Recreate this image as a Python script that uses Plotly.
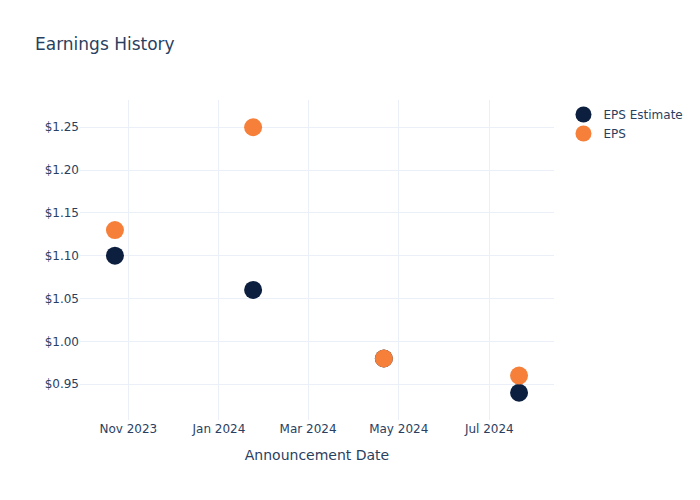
import plotly.graph_objects as go

dates = ["2023-10-23", "2024-01-24", "2024-04-21", "2024-07-21"]
eps_estimate = [1.10, 1.06, 0.98, 0.94]
eps_actual = [1.13, 1.25, 0.98, 0.96]

fig = go.Figure()
fig.add_trace(go.Scatter(x=dates, y=eps_estimate, mode="markers", name="EPS Estimate",
                         marker=dict(size=18, color="#0c1f3f")))
fig.add_trace(go.Scatter(x=dates, y=eps_actual, mode="markers", name="EPS",
                         marker=dict(size=18, color="#f6803a")))
fig.update_layout(
    template="plotly_white",
    width=692, height=492,
    margin=dict(l=72, r=80, t=92, b=80),
    font=dict(family="DejaVu Sans"),
    title=dict(text="Earnings History", x=27/692, xref="container",
               y=1 - 36/492, yref="container", yanchor="middle"),
    xaxis=dict(title="Announcement Date", dtick="M2", tickformat="%b %Y"),
    yaxis=dict(tickprefix="$", tickformat=".2f"),
)
fig.write_html("out.html")
